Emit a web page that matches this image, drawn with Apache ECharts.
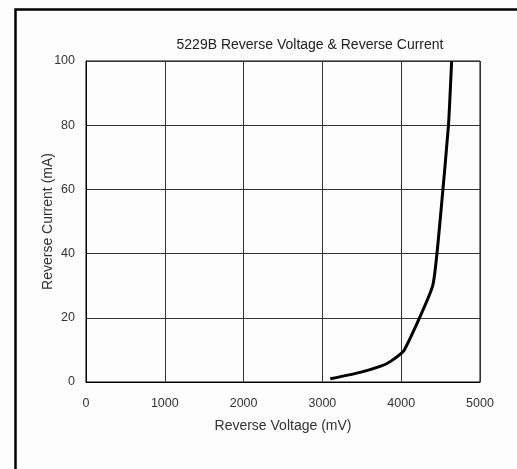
<!DOCTYPE html>
<html>
<head>
<meta charset="utf-8">
<script src="https://cdn.jsdelivr.net/npm/echarts@6/dist/echarts.min.js"></script>
<style>
html,body{margin:0;padding:0;background:#fff;}
#chart{width:517px;height:469px;}
</style>
</head>
<body>
<div id="chart"></div>
<script>
const titleText = '5229B Reverse Voltage & Reverse Current';
const xName = 'Reverse Voltage (mV)';
const yName = 'Reverse Current (mA)';
const voltage = [3100, 3480, 3750, 3870, 4040, 4400, 4500, 4600, 4640];
const current = [1, 3, 5, 6.5, 10, 30, 52, 80, 100];

const chart = echarts.init(document.getElementById('chart'), null, {renderer: 'canvas'});
const font = '"Liberation Sans", Arial, sans-serif';
chart.setOption({
  backgroundColor: '#fdfdfd',
  animation: false,
  title: {
    text: titleText,
    left: 305, top: 33, textAlign: 'center',
    textStyle: {fontFamily: font, fontSize: 14, fontWeight: 'normal', color: '#222'}
  },
  graphic: [{
    type: 'rect', left: 13, top: 7, z: 100, silent: true,
    shape: {width: 520, height: 480},
    style: {fill: 'none', stroke: '#000', lineWidth: 2.5}
  }],
  grid: {left: 86, right: 37, top: 61, bottom: 87, show: true, borderColor: '#000', borderWidth: 1, backgroundColor: 'transparent'},
  xAxis: {
    type: 'value', min: 0, max: 5000, interval: 1000,
    name: xName, nameLocation: 'middle', nameGap: 37, nameMoveOverlap: false,
    nameTextStyle: {fontFamily: font, fontSize: 14, color: '#333'},
    axisLine: {show: true, lineStyle: {color: '#000', width: 1}},
    axisTick: {show: false},
    axisLabel: {fontFamily: font, fontSize: 12.5, color: '#333', margin: 15, formatter: v => String(v)},
    splitLine: {show: true, lineStyle: {color: '#333', width: 1}}
  },
  yAxis: {
    type: 'value', min: 0, max: 100, interval: 20,
    name: yName, nameLocation: 'middle', nameGap: 31, nameMoveOverlap: false,
    nameTextStyle: {fontFamily: font, fontSize: 14, color: '#333'},
    axisLine: {show: true, lineStyle: {color: '#000', width: 1}},
    axisTick: {show: false},
    axisLabel: {fontFamily: font, fontSize: 12.5, color: '#333', margin: 11, formatter: v => String(v)},
    splitLine: {show: true, lineStyle: {color: '#333', width: 1}}
  },
  series: [{
    type: 'line',
    data: voltage.map((v, i) => [v, current[i]]),
    showSymbol: false,
    smooth: 0.15,
    lineStyle: {color: '#000', width: 3},
    itemStyle: {color: '#000'}
  }]
});
</script>
</body>
</html>
